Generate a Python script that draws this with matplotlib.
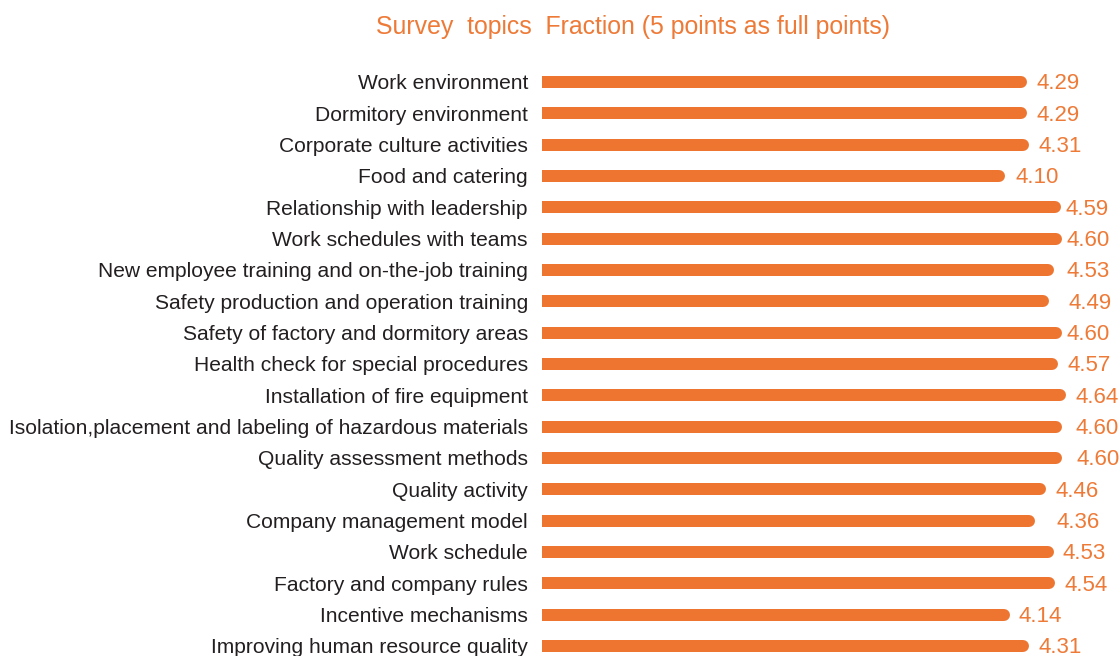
import numpy as np
import matplotlib
matplotlib.use("Agg")
import matplotlib.pyplot as plt

plt.rcParams['font.family'] = ['Liberation Sans', 'DejaVu Sans']

# -----------------------
# Data
# -----------------------
topics = [
    "Work environment",
    "Dormitory environment",
    "Corporate culture activities",
    "Food and catering",
    "Relationship with leadership",
    "Work schedules with teams",
    "New employee training and on-the-job training",
    "Safety production and operation training",
    "Safety of factory and dormitory areas",
    "Health check for special procedures",
    "Installation of fire equipment",
    "Isolation,placement and labeling of hazardous materials",
    "Quality assessment methods",
    "Quality activity",
    "Company management model",
    "Work schedule",
    "Factory and company rules",
    "Incentive mechanisms",
    "Improving human resource quality",
]
scores = [4.29, 4.29, 4.31, 4.10, 4.59, 4.60, 4.53, 4.49, 4.60, 4.57,
          4.64, 4.60, 4.60, 4.46, 4.36, 4.53, 4.54, 4.14, 4.31]

title = "Survey  topics  Fraction (5 points as full points)"

bar_color = "#ED7530"
text_orange = "#EE7A37"
label_color = "#231F20"

# -----------------------
# Layout (pixels)
# -----------------------
W, H = 1120, 656
x0_px = 542          # bar start
px_per_unit = 113.0
row_top, row_bot = 82, 646
n = len(topics)
row_px = (row_bot - row_top) / (n - 1)
xmax = 5.0
# gap between bar end and its value label (the source isn't uniform)
label_gap_px = [10, 10, 9, 10, 5, 5, 13, 19, 5, 9, 9, 14, 15, 10, 22, 9, 9, 9, 9]

fig = plt.figure(figsize=(W / 100, H / 100), dpi=100)
ax_top = row_top - row_px / 2
ax_bot = row_bot + row_px / 2
ax = fig.add_axes([x0_px / W, 1 - ax_bot / H, xmax * px_per_unit / W, (ax_bot - ax_top) / H])
ax.set_xlim(0, xmax)
ax.set_ylim(n - 0.5, -0.5)
ax.axis("off")

bar_px = 12
bar_h = bar_px / row_px
r_units = (bar_px / 2) / px_per_unit
lw_pt = bar_px * 72 / 100
dy = 1.8 / row_px   # nudge text down a touch

y = np.arange(n)
for yi, v in zip(y, scores):
    ax.barh(yi, v - r_units, height=bar_h, color=bar_color, linewidth=0)
    ax.plot([v / 2, v - r_units], [yi, yi], color=bar_color, lw=lw_pt,
            solid_capstyle="round")
    ax.text(v + label_gap_px[yi] / px_per_unit, yi + dy, f"{v:.2f}", color=text_orange,
            fontsize=16, va="center", ha="left", clip_on=False)
    ax.text(-14 / px_per_unit, yi + dy, topics[yi], color=label_color, fontsize=15.15,
            va="center", ha="right")

fig.text(633 / W, 1 - 27 / H, title, color=text_orange, fontsize=17.95,
         ha="center", va="center")

fig.savefig("out.png", dpi=100)
